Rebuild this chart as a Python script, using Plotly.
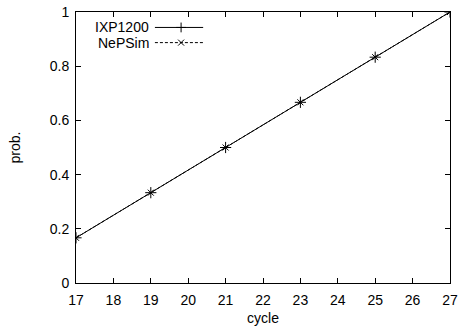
import plotly.graph_objects as go

cycles = [17, 19, 21, 23, 25, 27]
ixp1200 = [0.1667, 0.3333, 0.5, 0.6667, 0.8333, 1.0]
nepsim = [0.1667, 0.3333, 0.5, 0.6667, 0.8333, 1.0]
series_names = ["IXP1200", "NePSim"]
x_ticks = list(range(17, 28))
y_ticks = [0, 0.2, 0.4, 0.6, 0.8, 1]

FONT = "Liberation Sans, Arial, sans-serif"
FS = 14
fig = go.Figure()
fig.add_trace(go.Scatter(x=cycles, y=ixp1200, mode="lines+markers", name=series_names[0],
                         line=dict(color="black", width=1),
                         marker=dict(symbol="cross-thin", size=8, line=dict(color="black", width=1)),
                         showlegend=False))
fig.add_trace(go.Scatter(x=cycles, y=nepsim, mode="lines+markers", name=series_names[1],
                         line=dict(color="black", width=1, dash="3px,2px"),
                         marker=dict(symbol="x-thin", size=6, line=dict(color="black", width=1)),
                         showlegend=False))

# custom gnuplot-style legend (samples on an overlay axis in 0..1 units)
leg_y = [0.943, 0.887]
lx0, lx1, lxm, ltext = 0.211, 0.340, 0.281, 0.195
fig.add_trace(go.Scatter(x=[lx0, lx1], y=[leg_y[0]] * 2, mode="lines", xaxis="x2", yaxis="y2",
                         line=dict(color="black", width=1), showlegend=False, hoverinfo="skip"))
fig.add_trace(go.Scatter(x=[lxm], y=[leg_y[0]], mode="markers", xaxis="x2", yaxis="y2",
                         marker=dict(symbol="cross-thin", size=7, line=dict(color="black", width=1)),
                         showlegend=False, hoverinfo="skip"))
fig.add_trace(go.Scatter(x=[lx0, lx1], y=[leg_y[1]] * 2, mode="lines", xaxis="x2", yaxis="y2",
                         line=dict(color="black", width=1, dash="3px,2px"), showlegend=False, hoverinfo="skip"))
fig.add_trace(go.Scatter(x=[lxm], y=[leg_y[1]], mode="markers", xaxis="x2", yaxis="y2",
                         marker=dict(symbol="x-thin", size=6, line=dict(color="black", width=1)),
                         showlegend=False, hoverinfo="skip"))
for name, yy in zip(series_names, leg_y):
    fig.add_annotation(x=ltext, y=yy, xref="x2", yref="y2", text=name, showarrow=False,
                       xanchor="right", yanchor="middle", xshift=2,
                       font=dict(family=FONT, size=FS, color="black"))

axis_common = dict(showgrid=False, zeroline=False, showline=True, linecolor="black", linewidth=1,
                   mirror="ticks", ticks="inside", ticklen=5, tickcolor="black", tickwidth=1,
                   automargin=False,
                   tickfont=dict(family=FONT, size=FS, color="black"))
fig.update_layout(
    width=461, height=330,
    margin=dict(l=76, r=11, t=12, b=47),
    paper_bgcolor="white", plot_bgcolor="white",
    xaxis=dict(range=[17, 27], tickvals=x_ticks, ticklabelstandoff=4,
               title=dict(text="cycle", font=dict(family=FONT, size=FS, color="black"), standoff=6),
               **axis_common),
    yaxis=dict(range=[0, 1], tickvals=y_ticks, ticktext=[str(v) for v in y_ticks],
               ticklabelstandoff=3,
               title=dict(text="prob.", font=dict(family=FONT, size=FS, color="black"), standoff=25),
               **axis_common),
    xaxis2=dict(range=[0, 1], overlaying="x", visible=False),
    yaxis2=dict(range=[0, 1], overlaying="y", visible=False),
    showlegend=False,
)
fig.write_html("out.html", config={"displayModeBar": False},
               post_script="document.body.style.margin='0';document.body.style.overflow='hidden';")
